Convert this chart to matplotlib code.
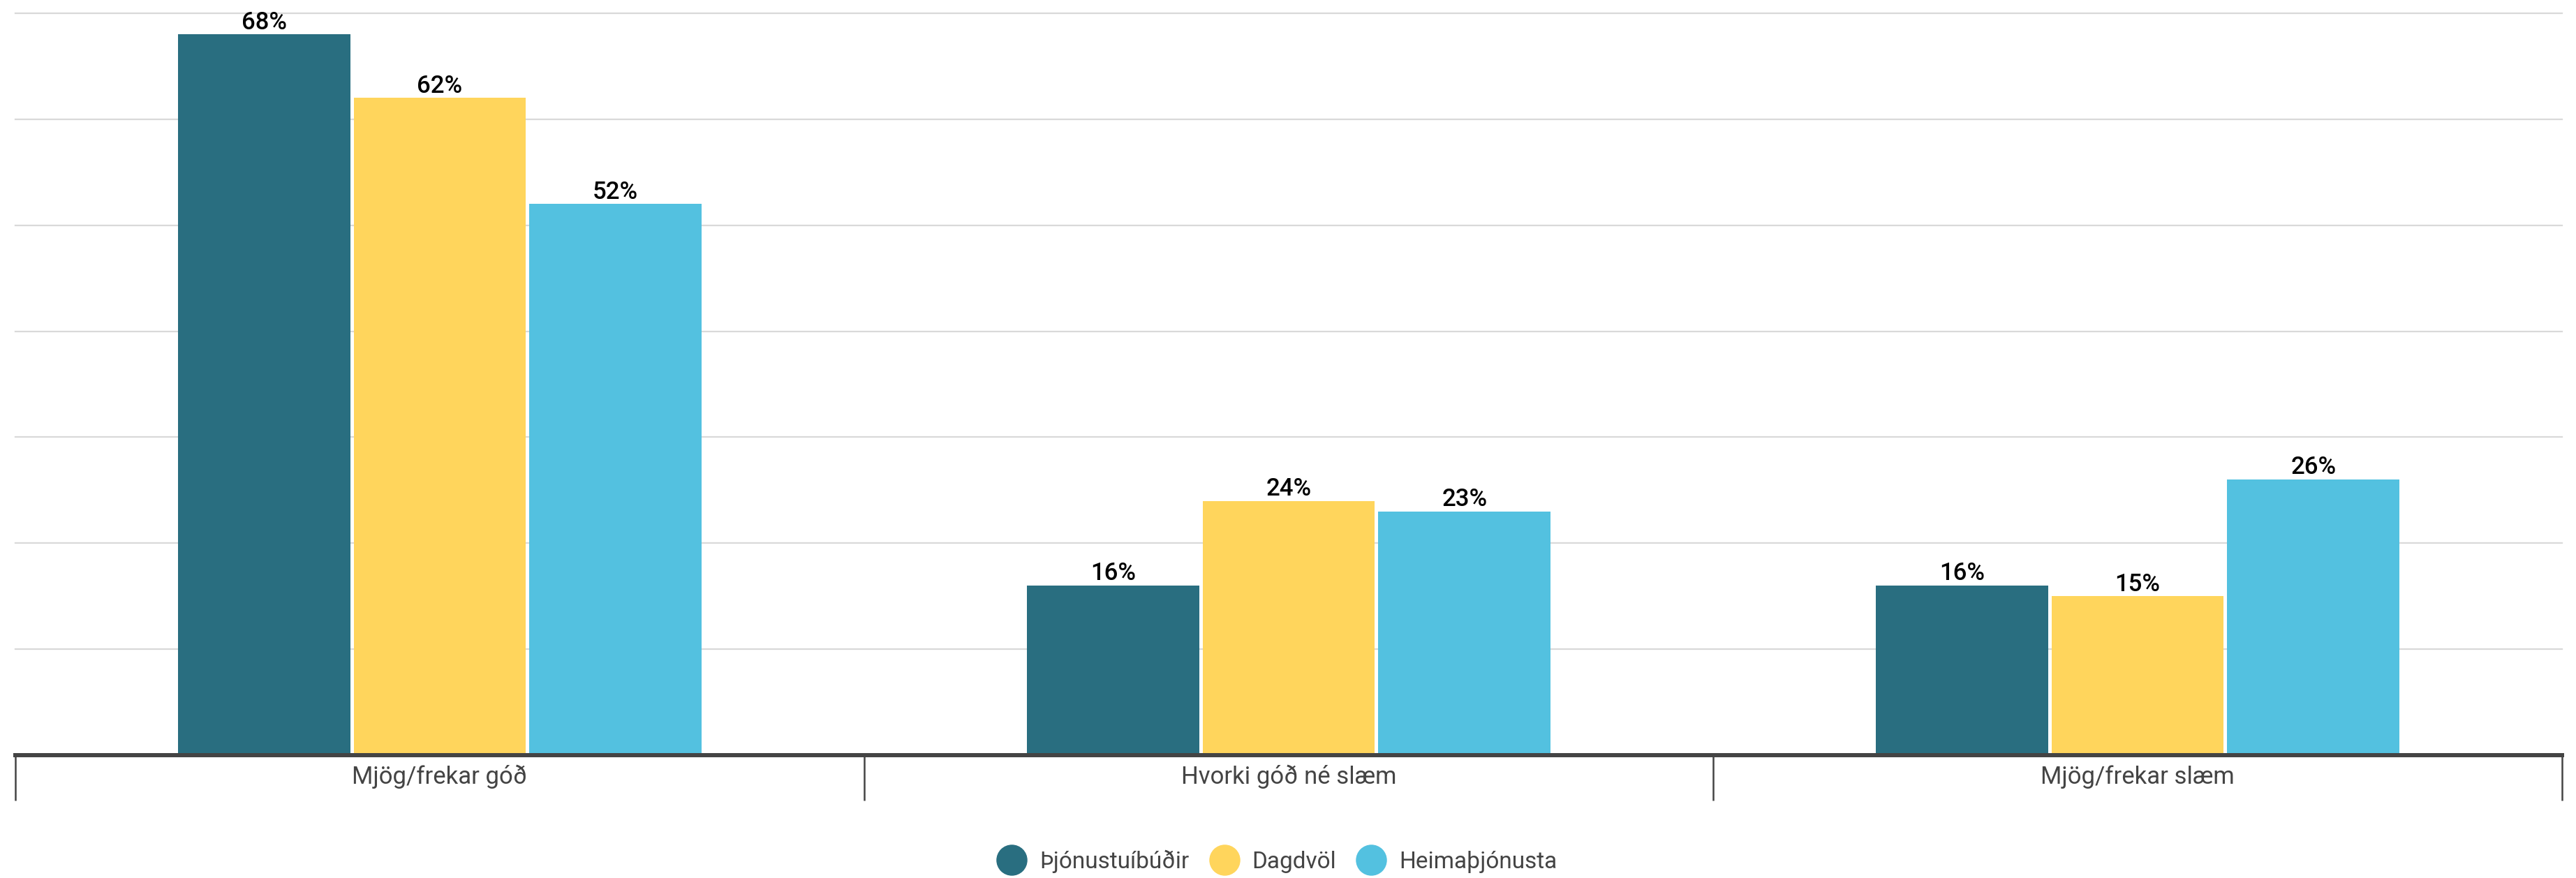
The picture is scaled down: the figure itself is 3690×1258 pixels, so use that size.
import matplotlib
matplotlib.use("Agg")
import matplotlib.pyplot as plt
from matplotlib.lines import Line2D
import numpy as np

categories = ["Mjög/frekar góð", "Hvorki góð né slæm", "Mjög/frekar slæm"]
series = ["Þjónustuíbúðir", "Dagdvöl", "Heimaþjónusta"]
values = {
    "Þjónustuíbúðir": [68, 16, 16],
    "Dagdvöl": [62, 24, 15],
    "Heimaþjónusta": [52, 23, 26],
}
colors = ["#296E80", "#FFD55C", "#53C1E0"]
grid_levels = [10, 20, 30, 40, 50, 60, 70]

plt.rcParams["font.family"] = ["Roboto", "DejaVu Sans"]

W, H = 3690, 1258
fig = plt.figure(figsize=(W / 100, H / 100), dpi=100)
ax = fig.add_axes([22 / W, 1 - 1082 / H, (3670 - 22) / W, (1082 - 19) / H])

x = np.arange(len(categories))
pitch, width = 0.207, 0.203
for k, (name, col) in enumerate(zip(series, colors)):
    bars = ax.bar(x + (k - 1) * pitch, values[name], width=width, color=col, zorder=3)
    ax.bar_label(bars, labels=[f"{v}%" for v in values[name]], padding=0.5,
                 fontsize=25, fontweight="medium", color="black")

ax.set_xlim(-0.5, len(categories) - 0.5)
ax.set_ylim(0, 70)
for g in grid_levels:
    ax.axhline(g, color="#d9d9d9", lw=1.6, zorder=1, clip_on=False)

for s in ["left", "right", "top"]:
    ax.spines[s].set_visible(False)
ax.spines["bottom"].set_color("#444444")
ax.spines["bottom"].set_linewidth(4.3)
ax.spines["bottom"].set_zorder(4)
ax.set_yticks([])
ax.set_xticks(np.arange(len(categories) + 1) - 0.5)
ax.set_xticklabels([])
ax.tick_params(axis="x", length=47, width=1.8, color="#444444")

for i, c in enumerate(categories):
    ax.annotate(c, xy=(i, 0), xycoords=("data", "axes fraction"),
                xytext=(0, -22.5), textcoords="offset points",
                ha="center", va="center", fontsize=25, color="#444444")

handles = [Line2D([], [], marker="o", ls="none", markersize=31, markerfacecolor=c,
                  markeredgecolor=c) for c in colors]
fig.legend(handles, series, loc="center", bbox_to_anchor=(1830 / W, 1 - 1234 / H),
           ncol=3, frameon=False, fontsize=24, labelcolor="#444444",
           handletextpad=0.6, columnspacing=0.9, handlelength=1.2)

fig.savefig("out.png", dpi=100, facecolor="white")
